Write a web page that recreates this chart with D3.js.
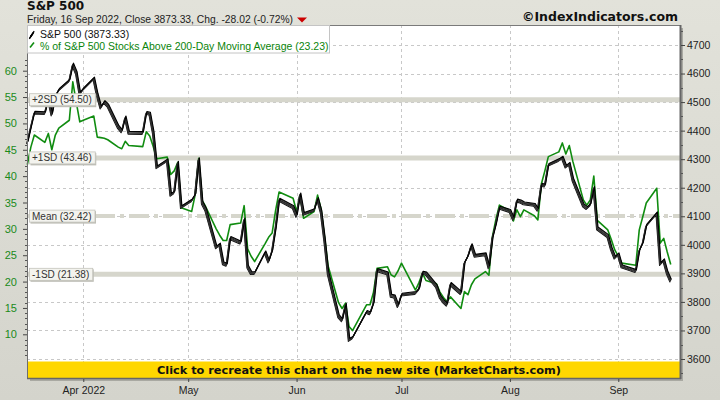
<!DOCTYPE html>
<html><head><meta charset="utf-8">
<script src="https://cdn.jsdelivr.net/npm/d3@7"></script>
<style>
html,body{margin:0;padding:0;background:#d9d9d1;}
svg{display:block;}
</style></head><body>
<svg id="c" width="720" height="400"></svg>
<script>
const dates = ["2022-03-16","2022-03-17","2022-03-18","2022-03-21","2022-03-22","2022-03-23","2022-03-24","2022-03-25","2022-03-28","2022-03-29","2022-03-30","2022-03-31",
"2022-04-01","2022-04-04","2022-04-05","2022-04-06","2022-04-07","2022-04-08","2022-04-11","2022-04-12","2022-04-13","2022-04-14","2022-04-18","2022-04-19","2022-04-20","2022-04-21","2022-04-22","2022-04-25","2022-04-26","2022-04-27","2022-04-28","2022-04-29",
"2022-05-02","2022-05-03","2022-05-04","2022-05-05","2022-05-06","2022-05-09","2022-05-10","2022-05-11","2022-05-12","2022-05-13","2022-05-16","2022-05-17","2022-05-18","2022-05-19","2022-05-20","2022-05-23","2022-05-24","2022-05-25","2022-05-26","2022-05-27","2022-05-31",
"2022-06-01","2022-06-02","2022-06-03","2022-06-06","2022-06-07","2022-06-08","2022-06-09","2022-06-10","2022-06-13","2022-06-14","2022-06-15","2022-06-16","2022-06-17","2022-06-21","2022-06-22","2022-06-23","2022-06-24","2022-06-27","2022-06-28","2022-06-29","2022-06-30",
"2022-07-01","2022-07-05","2022-07-06","2022-07-07","2022-07-08","2022-07-11","2022-07-12","2022-07-13","2022-07-14","2022-07-15","2022-07-18","2022-07-19","2022-07-20","2022-07-21","2022-07-22","2022-07-25","2022-07-26","2022-07-27","2022-07-28","2022-07-29",
"2022-08-01","2022-08-02","2022-08-03","2022-08-04","2022-08-05","2022-08-08","2022-08-09","2022-08-10","2022-08-11","2022-08-12","2022-08-15","2022-08-16","2022-08-17","2022-08-18","2022-08-19","2022-08-22","2022-08-23","2022-08-24","2022-08-25","2022-08-26","2022-08-29","2022-08-30","2022-08-31",
"2022-09-01","2022-09-02","2022-09-06","2022-09-07","2022-09-08","2022-09-09","2022-09-12","2022-09-13","2022-09-14","2022-09-15","2022-09-16"];

const spxClose = [4357.86,4411.67,4463.12,4461.18,4511.61,4456.24,4520.16,4543.06,4575.52,4631.60,4602.45,4530.41,
4545.86,4582.64,4525.12,4481.15,4500.21,4488.28,4412.53,4397.45,4446.59,4392.59,4391.69,4462.21,4459.45,4393.66,4271.78,4296.12,4175.20,4183.96,4287.50,4131.93,
4155.38,4175.48,4300.17,4146.87,4123.34,3991.24,4001.05,3935.18,3930.08,4023.89,4008.01,4088.85,3923.68,3900.79,3901.36,3973.75,3941.48,3978.73,4057.84,4158.24,4132.15,
4101.23,4176.82,4108.54,4121.43,4160.68,4115.77,4017.82,3900.86,3749.63,3735.48,3789.99,3666.77,3674.84,3764.79,3759.89,3795.73,3911.74,3900.11,3821.55,3818.83,3785.38,
3825.33,3831.39,3845.08,3902.62,3899.38,3854.43,3818.80,3801.78,3790.38,3863.16,3830.85,3936.69,3959.90,3998.95,3961.63,3966.84,3921.05,4023.61,4072.43,4130.29,
4118.63,4091.19,4155.17,4151.94,4145.19,4140.06,4122.47,4210.24,4207.27,4280.15,4297.14,4305.20,4274.04,4283.74,4228.48,4137.99,4128.73,4140.77,4199.12,4057.66,4030.61,3986.16,3955.00,
3966.85,3924.26,3908.19,3979.87,4006.18,4067.36,4110.41,3932.69,3946.01,3901.35,3873.33];

const pctAbove200 = [42.2,45.5,47.8,46.4,48.1,45.0,47.8,49.1,50.6,57.9,54.0,50.3,
50.6,51.4,47.4,47.3,47.2,46.9,45.5,45.2,46.6,45.8,45.6,48.4,47.6,45.6,43.3,43.6,40.3,41.0,42.6,34.0,
33.3,36.5,43.4,35.4,34.2,30.0,28.8,27.8,27.8,30.8,31.1,34.4,26.2,24.8,23.8,27.2,28.4,29.2,33.5,37.0,35.8,
33.3,36.4,32.0,33.3,36.4,33.8,28.5,23.0,16.0,14.9,15.9,11.5,10.7,15.6,15.6,18.0,22.5,22.8,21.3,20.9,22.0,
23.5,18.4,19.8,21.6,20.2,19.6,18.0,17.0,16.2,17.1,14.9,18.1,17.5,19.4,20.5,21.9,21.2,28.5,31.8,34.5,
33.4,31.5,33.6,32.3,33.6,32.5,31.7,38.5,41.0,43.7,44.6,46.3,44.2,45.8,42.8,35.5,34.5,35.5,40.0,31.6,29.8,28.0,26.0,
24.8,23.5,23.1,29.8,32.3,34.9,37.7,27.3,28.2,25.6,23.23];

const leftTicks = [10,15,20,25,30,35,40,45,50,55,60];
const rightTicks = [3600,3700,3800,3900,4000,4100,4200,4300,4400,4500,4600,4700];
const monthTicks = ["2022-04-01","2022-05-01","2022-06-01","2022-07-01","2022-08-01","2022-09-01"];
const monthLabels = ["Apr 2022","May","Jun","Jul","Aug","Sep"];
const bandValues = [54.50,43.46,32.42,21.38];
const bandLabels = ["+2SD (54.50)","+1SD (43.46)","Mean (32.42)","-1SD (21.38)"];
const legendLabels = ["S&P 500 (3873.33)","% of S&P 500 Stocks Above 200-Day Moving Average (23.23)"];

const parse = d3.utcParse("%Y-%m-%d");
const L = 27, R = 680, T = 25, B = 378;
const svg = d3.select("#c");
const SANS = "'Liberation Sans', Arial, sans-serif";
const BOLD = "'DejaVu Sans', Verdana, sans-serif";

const x = d3.scaleUtc()
  .domain([new Date(Date.UTC(2022,2,15,21,36)), new Date(Date.UTC(2022,8,18,15,36))])
  .range([L, R]);
const yR = d3.scaleLinear().domain([3600,4700]).range([359,45]);
const yL = d3.scaleLinear().domain([10,60]).range([334.3,70.7]);

// background
const defs = svg.append("defs");
const bg = defs.append("linearGradient").attr("id","bg").attr("x1",0).attr("y1",0).attr("x2",0).attr("y2",1);
bg.append("stop").attr("offset","0").attr("stop-color","#e2e2da");
bg.append("stop").attr("offset","1").attr("stop-color","#d4d4cc");
svg.append("rect").attr("width",720).attr("height",400).attr("fill","url(#bg)");

// plot shadow + area
svg.append("rect").attr("x",L+3).attr("y",T+3).attr("width",R-L).attr("height",B-T).attr("fill","#a9a9a2");
svg.append("rect").attr("x",L).attr("y",T).attr("width",R-L).attr("height",B-T).attr("fill","#ffffff");

// grid
const grid = svg.append("g").attr("stroke","#c8c8c8").attr("stroke-width",1).attr("stroke-dasharray","3,3");
grid.selectAll("line.h").data(rightTicks).join("line")
  .attr("x1",L).attr("x2",R).attr("y1",d=>Math.round(yR(d))+0.5).attr("y2",d=>Math.round(yR(d))+0.5);
grid.selectAll("line.v").data(monthTicks).join("line")
  .attr("y1",T).attr("y2",B).attr("x1",d=>Math.round(x(parse(d)))+0.5).attr("x2",d=>Math.round(x(parse(d)))+0.5);

// bands
const bandG = svg.append("g");
bandG.selectAll("line").data(bandValues).join("line")
  .attr("x1",L).attr("x2",R)
  .attr("y1",d=>yL(d)).attr("y2",d=>yL(d))
  .attr("stroke","#d6d6cc")
  .attr("stroke-width",(d,i)=>i===2?4:5)
  .attr("stroke-dasharray",(d,i)=>i===2?"20,5,4,5":null);

// data
const rows = dates.map((d,i)=>({date:parse(d), spx:spxClose[i], pct:pctAbove200[i]}));

const lineSpx = d3.line().x(d=>x(d.date)).y(d=>yR(d.spx));
const linePct = d3.line().x(d=>x(d.date)).y(d=>yL(d.pct));

svg.append("path").datum(rows).attr("d",linePct)
  .attr("fill","none").attr("stroke","#108c10").attr("stroke-width",1.6).attr("stroke-linejoin","round");

const nib = [[-0.7,1.4,"#111"],[-0.35,0.7,"#3a3a3a"],[0,0,"#222"],[0.35,-0.7,"#3a3a3a"],[0.7,-1.4,"#000"]];
const spxG = svg.append("g");
nib.forEach(([dx,dy,c])=>{
  spxG.append("path").datum(rows).attr("d",lineSpx)
    .attr("transform",`translate(${dx},${dy})`)
    .attr("fill","none").attr("stroke",c).attr("stroke-width",1.1).attr("stroke-linejoin","round");
});

// band labels
const lblG = svg.append("g").attr("font-family",SANS).attr("font-size","10px");
bandValues.forEach((v,i)=>{
  const yy = yL(v);
  const g = lblG.append("g");
  const sh = g.append("rect").attr("fill","#bdbdb5");
  const bx = g.append("rect").attr("fill","#f3f3ee").attr("stroke","#c4c4bc").attr("stroke-width",0.8);
  const t = g.append("text").attr("x",32).attr("y",yy+3.6).attr("fill","#333").text(bandLabels[i]);
  const w = t.node().getComputedTextLength();
  bx.attr("x",29.5).attr("y",yy-6).attr("width",w+6).attr("height",12);
  sh.attr("x",30.5).attr("y",yy-5).attr("width",w+6).attr("height",12.5);
});

// yellow banner
svg.append("rect").attr("x",L).attr("y",361.5).attr("width",R-L).attr("height",B-361.5).attr("fill","#ffd700");
svg.append("text").attr("x",359).attr("y",373.8).attr("text-anchor","middle")
  .attr("font-family",BOLD).attr("font-weight","bold").attr("font-size","11.3px").attr("fill","#111")
  .text("Click to recreate this chart on the new site (MarketCharts.com)");

// frame
svg.append("line").attr("x1",L+0.5).attr("x2",L+0.5).attr("y1",T).attr("y2",B).attr("stroke","#6e6e6e");
svg.append("line").attr("x1",L).attr("x2",R).attr("y1",T+0.5).attr("y2",T+0.5).attr("stroke","#7a7a7a");
svg.append("line").attr("x1",R+0.5).attr("x2",R+0.5).attr("y1",T).attr("y2",B+1).attr("stroke","#666").attr("stroke-width",2);
svg.append("line").attr("x1",L).attr("x2",R+1).attr("y1",B+0.5).attr("y2",B+0.5).attr("stroke","#666").attr("stroke-width",1.5);

// legend
const lg = svg.append("g");
lg.append("rect").attr("x",27.5).attr("y",25.5).attr("width",302).attr("height",27.5)
  .attr("fill","#fff").attr("stroke","#c4c4c4");
nib.forEach(([dx,dy,c])=>{
  lg.append("line").attr("x1",30+dx).attr("y1",37.5+dy).attr("x2",33.5+dx).attr("y2",32.5+dy)
    .attr("stroke","#000").attr("stroke-width",1.2);
});
lg.append("line").attr("x1",30).attr("y1",47.5).attr("x2",34).attr("y2",42.5).attr("stroke","#108c10").attr("stroke-width",1.6);
lg.append("text").attr("x",40).attr("y",38).attr("font-family",SANS).attr("font-size","10.5px").attr("fill","#111").text(legendLabels[0]);
lg.append("text").attr("x",40).attr("y",49.5).attr("font-family",SANS).attr("font-size","10.5px").attr("fill","#0a840a").text(legendLabels[1]);

// left axis
const minorL = d3.range(6,63,1).filter(v=>v%5!==0);
const axL = svg.append("g").attr("transform",`translate(${L},0)`)
  .call(d3.axisLeft(yL).tickValues(leftTicks).tickSize(4).tickPadding(6));
axL.select(".domain").remove();
axL.selectAll(".tick line").attr("stroke","#444");
axL.selectAll(".tick text").attr("fill","#1a8a1a").attr("font-family",SANS).attr("font-size","11px");
svg.append("g").selectAll("line").data(minorL.filter(v=>yL(v)>T && yL(v)<B)).join("line")
  .attr("x1",L-2).attr("x2",L).attr("y1",d=>Math.round(yL(d))+0.5).attr("y2",d=>Math.round(yL(d))+0.5)
  .attr("stroke","#555");

// right axis
const minorR = d3.range(3550,4751,50).filter(v=>v%100!==0);
const axR = svg.append("g").attr("transform",`translate(${R+1},0)`)
  .call(d3.axisRight(yR).tickValues(rightTicks).tickSize(4).tickPadding(2).tickFormat(d3.format("d")));
axR.select(".domain").remove();
axR.selectAll(".tick line").attr("stroke","#444");
axR.selectAll(".tick text").attr("fill","#222").attr("font-family",SANS).attr("font-size","10.5px");
svg.append("g").selectAll("line").data(minorR.filter(v=>yR(v)>T && yR(v)<B)).join("line")
  .attr("x1",R+1).attr("x2",R+3).attr("y1",d=>Math.round(yR(d))+0.5).attr("y2",d=>Math.round(yR(d))+0.5)
  .attr("stroke","#555");

// bottom axis
const axB = svg.append("g").attr("transform",`translate(0,${B+1})`)
  .call(d3.axisBottom(x).tickValues(monthTicks.map(parse)).tickSize(3).tickPadding(5)
    .tickFormat((d,i)=>monthLabels[i]));
axB.select(".domain").remove();
axB.selectAll(".tick line").attr("stroke","#444");
axB.selectAll(".tick text").attr("fill","#222").attr("font-family",SANS).attr("font-size","10.5px");

// titles
svg.append("text").attr("x",27).attr("y",10).attr("font-family",BOLD).attr("font-weight","bold")
  .attr("font-size","12px").attr("fill","#111").text("S&P 500");
const sub = svg.append("text").attr("x",27).attr("y",22.5).attr("font-family",SANS)
  .attr("font-size","10.3px").attr("fill","#222")
  .text("Friday, 16 Sep 2022, Close 3873.33, Chg. -28.02 (-0.72%)");
const sw = sub.node().getComputedTextLength();
const tx = 27 + sw + 4;
svg.append("path").attr("d",`M${tx},17.5 L${tx+10},17.5 L${tx+5},22.5 Z`).attr("fill","#cc0000");
svg.append("text").attr("x",678).attr("y",21).attr("text-anchor","end").attr("font-family",BOLD)
  .attr("font-weight","bold").attr("font-size","12.5px").attr("fill","#111").text("©IndexIndicators.com");
</script>
</body></html>
